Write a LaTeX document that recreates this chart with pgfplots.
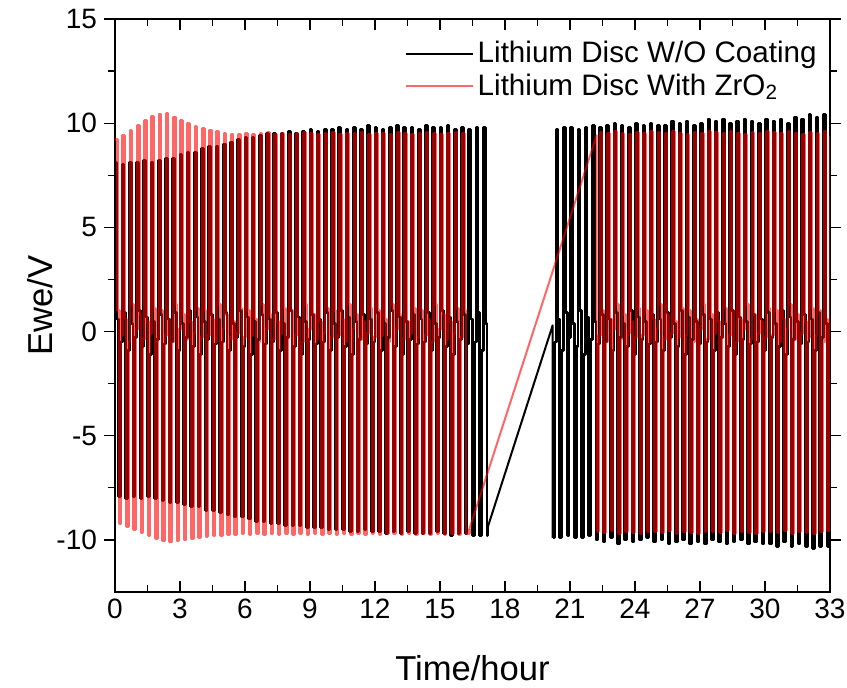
\documentclass[border=0pt]{standalone}
\usepackage{fontspec}
\setmainfont{Liberation Sans}
\usepackage{pgfplots}
\pgfplotsset{compat=1.18}
\begin{document}
\begin{tikzpicture}
\begin{axis}[
  width=357.5pt, height=286.5pt, scale only axis,
  xmin=0, xmax=33, ymin=-12.5, ymax=15,
  xtick={0,3,...,33}, ytick={-10,-5,0,5,10,15},
  minor x tick num=1, minor y tick num=1,
  xtick align=inside, ytick align=outside,
  major tick length=5.5pt, minor tick length=3.5pt,
  every tick/.style={line width=0.6pt, black},
  axis line style={line width=1pt},
  ticklabel style={font=\fontsize{14}{16}\selectfont},
  /pgf/number format/assume math mode=true,
  xlabel={Time/hour}, ylabel={Ewe/V},
  label style={font=\fontsize{17.3}{20}\selectfont},
  xlabel style={at={(axis description cs:0.5,-0.1326)}, anchor=center},
  ylabel style={at={(axis description cs:-0.1049,0.5)}, anchor=center},
  legend style={draw=none, fill=none, inner sep=0pt, nodes={inner sep=2pt},
    at={(axis description cs:0.9874,0.9686)}, anchor=north east,
    font=\fontsize{14.8}{17}\selectfont},
  legend cell align=left,
  legend image code/.code={\draw[#1, line width=1pt] (0pt,0pt) -- (33.5pt,0pt);},
  every axis plot/.append style={line width=1.4pt, line join=round},
]
% black, first part
\addplot[black, const plot, no marks] coordinates {
(0,8.1)(0.083,0.6)(0.167,-7.9)(0.25,-0.5)(0.333,8.0)(0.417,0.9)(0.5,-8.0)(0.583,-0.9)(0.667,8.1)(0.75,0.4)(0.833,-7.9)(0.917,-0.3)
(1,8.1)(1.083,1.0)(1.167,-8.0)(1.25,-0.7)(1.333,8.2)(1.417,0.7)(1.5,-7.9)(1.583,-1.1)(1.667,8.1)(1.75,0.5)(1.833,-8.0)(1.917,-0.4)
(2,8.2)(2.083,0.8)(2.167,-8.1)(2.25,-0.6)(2.333,8.3)(2.417,0.6)(2.5,-8.2)(2.583,-0.5)(2.667,8.3)(2.75,0.9)(2.833,-8.2)(2.917,-0.9)
(3,8.5)(3.083,0.4)(3.167,-8.3)(3.25,-0.3)(3.333,8.6)(3.417,1.0)(3.5,-8.4)(3.583,-0.7)(3.667,8.6)(3.75,0.7)(3.833,-8.4)(3.917,-1.1)
(4,8.8)(4.083,0.5)(4.167,-8.6)(4.25,-0.4)(4.333,8.9)(4.417,0.8)(4.5,-8.6)(4.583,-0.6)(4.667,8.9)(4.75,0.6)(4.833,-8.7)(4.917,-0.5)
(5,9.0)(5.083,0.9)(5.167,-8.8)(5.25,-0.9)(5.333,9.1)(5.417,0.4)(5.5,-8.9)(5.583,-0.3)(5.667,9.2)(5.75,1.0)(5.833,-8.9)(5.917,-0.7)
(6,9.3)(6.083,0.7)(6.167,-9.0)(6.25,-1.1)(6.333,9.3)(6.417,0.5)(6.5,-9.1)(6.583,-0.4)(6.667,9.4)(6.75,0.8)(6.833,-9.1)(6.917,-0.6)
(7,9.5)(7.083,0.6)(7.167,-9.2)(7.25,-0.5)(7.333,9.5)(7.417,0.9)(7.5,-9.2)(7.583,-0.9)(7.667,9.5)(7.75,0.4)(7.833,-9.3)(7.917,-0.3)
(8,9.6)(8.083,1.0)(8.167,-9.3)(8.25,-0.7)(8.333,9.5)(8.417,0.7)(8.5,-9.3)(8.583,-1.1)(8.667,9.6)(8.75,0.5)(8.833,-9.4)(8.917,-0.4)
(9,9.7)(9.083,0.8)(9.167,-9.4)(9.25,-0.6)(9.333,9.6)(9.417,0.6)(9.5,-9.4)(9.583,-0.5)(9.667,9.7)(9.75,0.9)(9.833,-9.5)(9.917,-0.9)
(10,9.7)(10.083,0.4)(10.167,-9.5)(10.25,-0.3)(10.333,9.8)(10.417,1.0)(10.5,-9.5)(10.583,-0.7)(10.667,9.7)(10.75,0.7)(10.833,-9.6)(10.917,-1.1)
(11,9.8)(11.083,0.5)(11.167,-9.6)(11.25,-0.4)(11.333,9.7)(11.417,0.8)(11.5,-9.5)(11.583,-0.6)(11.667,9.9)(11.75,0.6)(11.833,-9.6)(11.917,-0.5)
(12,9.8)(12.083,0.9)(12.167,-9.6)(12.25,-0.9)(12.333,9.7)(12.417,0.4)(12.5,-9.7)(12.583,-0.3)(12.667,9.8)(12.75,1.0)(12.833,-9.6)(12.917,-0.7)
(13,9.9)(13.083,0.7)(13.167,-9.7)(13.25,-1.1)(13.333,9.8)(13.417,0.5)(13.5,-9.6)(13.583,-0.4)(13.667,9.8)(13.75,0.8)(13.833,-9.7)(13.917,-0.6)
(14,9.7)(14.083,0.6)(14.167,-9.7)(14.25,-0.5)(14.333,9.9)(14.417,0.9)(14.5,-9.7)(14.583,-0.9)(14.667,9.8)(14.75,0.4)(14.833,-9.6)(14.917,-0.3)
(15,9.8)(15.083,1.0)(15.167,-9.7)(15.25,-0.7)(15.333,9.9)(15.417,0.7)(15.5,-9.8)(15.583,-1.1)(15.667,9.7)(15.75,0.5)(15.833,-9.7)(15.917,-0.4)
(16,9.8)(16.083,0.8)(16.167,-9.7)(16.25,-0.6)(16.333,9.7)(16.417,0.6)(16.5,-9.8)(16.583,-0.5)(16.667,9.8)(16.75,0.9)(16.833,-9.8)(16.917,-0.9)
(17,9.8)(17.083,0.4)(17.167,-9.8)(17.2,-9.4)
};
\addlegendentry{Lithium Disc W/O Coating}
\addplot[black, sharp plot, no marks, forget plot, line width=1pt] coordinates {(17.2,-9.4)(20.2,0.3)(20.2,-9.9)};
\addplot[black, const plot, no marks, forget plot] coordinates {
(20.2,-9.9)(20.283,-0.5)(20.367,9.7)(20.45,0.6)
(20.533,-9.9)(20.617,-0.9)(20.7,9.8)(20.783,0.9)
(20.867,-9.8)(20.95,-0.3)(21.033,9.8)(21.117,0.4)
(21.2,-9.9)(21.283,-0.7)(21.367,9.7)(21.45,1.0)
(21.533,-9.9)(21.617,-1.1)(21.7,9.8)(21.783,0.7)
(21.867,-9.8)(21.95,-0.4)(22.033,9.9)(22.117,0.5)
(22.2,-10.0)(22.283,-0.6)(22.367,9.8)(22.45,0.8)
(22.533,-10.1)(22.617,-0.5)(22.7,9.9)(22.783,0.6)
(22.867,-9.9)(22.95,-0.9)(23.033,10.0)(23.117,0.9)
(23.2,-10.2)(23.283,-0.3)(23.367,9.9)(23.45,0.4)
(23.533,-10.0)(23.617,-0.7)(23.7,9.8)(23.783,1.0)
(23.867,-10.1)(23.95,-1.1)(24.033,10.0)(24.117,0.7)
(24.2,-10.0)(24.283,-0.4)(24.367,9.9)(24.45,0.5)
(24.533,-9.9)(24.617,-0.6)(24.7,10.0)(24.783,0.8)
(24.867,-10.1)(24.95,-0.5)(25.033,9.9)(25.117,0.6)
(25.2,-10.0)(25.283,-0.9)(25.367,9.9)(25.45,0.9)
(25.533,-10.2)(25.617,-0.3)(25.7,10.1)(25.783,0.4)
(25.867,-10.1)(25.95,-0.7)(26.033,10.0)(26.117,1.0)
(26.2,-10.0)(26.283,-1.1)(26.367,10.1)(26.45,0.7)
(26.533,-10.2)(26.617,-0.4)(26.7,9.9)(26.783,0.5)
(26.867,-10.1)(26.95,-0.6)(27.033,10.0)(27.117,0.8)
(27.2,-10.2)(27.283,-0.5)(27.367,10.2)(27.45,0.6)
(27.533,-10.0)(27.617,-0.9)(27.7,10.1)(27.783,0.9)
(27.867,-10.1)(27.95,-0.3)(28.033,10.2)(28.117,0.4)
(28.2,-10.2)(28.283,-0.7)(28.367,10.0)(28.45,1.0)
(28.533,-10.1)(28.617,-1.1)(28.7,10.1)(28.783,0.7)
(28.867,-10.0)(28.95,-0.4)(29.033,10.2)(29.117,0.5)
(29.2,-10.2)(29.283,-0.6)(29.367,10.1)(29.45,0.8)
(29.533,-10.1)(29.617,-0.5)(29.7,10.0)(29.783,0.6)
(29.867,-10.2)(29.95,-0.9)(30.033,10.2)(30.117,0.9)
(30.2,-10.2)(30.283,-0.3)(30.367,10.1)(30.45,0.4)
(30.533,-10.3)(30.617,-0.7)(30.7,10.2)(30.783,1.0)
(30.867,-10.1)(30.95,-1.1)(31.033,10.0)(31.117,0.7)
(31.2,-10.3)(31.283,-0.4)(31.367,10.3)(31.45,0.5)
(31.533,-10.2)(31.617,-0.6)(31.7,10.2)(31.783,0.8)
(31.867,-10.3)(31.95,-0.5)(32.033,10.4)(32.117,0.6)
(32.2,-10.4)(32.283,-0.9)(32.367,10.3)(32.45,0.9)
(32.533,-10.3)(32.617,-0.3)(32.7,10.4)(32.783,0.4)
(32.867,-10.3)(32.95,-0.7)(33,-10.6)
};
% red, first part
\addplot[red, opacity=0.6, const plot, no marks] coordinates {
(0,9.2)(0.113,1.0)(0.197,-9.2)(0.28,-0.2)(0.363,9.4)(0.447,0.6)(0.53,-9.35)(0.613,-0.5)(0.697,9.63)(0.78,1.3)(0.863,-9.5)(0.947,0.1)
(1.03,9.88)(1.113,0.8)(1.197,-9.65)(1.28,-0.4)(1.363,10.12)(1.447,0.5)(1.53,-9.8)(1.613,-0.1)(1.697,10.33)(1.78,1.1)(1.863,-9.95)(1.947,-0.3)
(2.03,10.44)(2.113,1.0)(2.197,-10.05)(2.28,-0.2)(2.363,10.45)(2.447,0.6)(2.53,-10.1)(2.613,-0.5)(2.697,10.3)(2.78,1.3)(2.863,-10.05)(2.947,0.1)
(3.03,10.13)(3.113,0.8)(3.197,-10.0)(3.28,-0.4)(3.363,9.97)(3.447,0.5)(3.53,-9.95)(3.613,-0.1)(3.697,9.85)(3.78,1.1)(3.863,-9.9)(3.947,-0.3)
(4.03,9.75)(4.113,1.0)(4.197,-9.85)(4.28,-0.2)(4.363,9.67)(4.447,0.6)(4.53,-9.8)(4.613,-0.5)(4.697,9.61)(4.78,1.3)(4.863,-9.8)(4.947,0.1)
(5.03,9.52)(5.113,0.8)(5.197,-9.75)(5.28,-0.4)(5.363,9.48)(5.447,0.5)(5.53,-9.75)(5.613,-0.1)(5.697,9.45)(5.78,1.1)(5.863,-9.7)(5.947,-0.3)
(6.03,9.5)(6.113,1.0)(6.197,-9.75)(6.28,-0.2)(6.363,9.45)(6.447,0.6)(6.53,-9.7)(6.613,-0.5)(6.697,9.5)(6.78,1.3)(6.863,-9.75)(6.947,0.1)
(7.03,9.55)(7.113,0.8)(7.197,-9.7)(7.28,-0.4)(7.363,9.45)(7.447,0.5)(7.53,-9.75)(7.613,-0.1)(7.697,9.5)(7.78,1.1)(7.863,-9.7)(7.947,-0.3)
(8.03,9.45)(8.113,1.0)(8.197,-9.75)(8.28,-0.2)(8.363,9.5)(8.447,0.6)(8.53,-9.7)(8.613,-0.5)(8.697,9.55)(8.78,1.3)(8.863,-9.75)(8.947,0.1)
(9.03,9.5)(9.113,0.8)(9.197,-9.7)(9.28,-0.4)(9.363,9.45)(9.447,0.5)(9.53,-9.75)(9.613,-0.1)(9.697,9.5)(9.78,1.1)(9.863,-9.7)(9.947,-0.3)
(10.03,9.55)(10.113,1.0)(10.197,-9.75)(10.28,-0.2)(10.363,9.45)(10.447,0.6)(10.53,-9.7)(10.613,-0.5)(10.697,9.5)(10.78,1.3)(10.863,-9.75)(10.947,0.1)
(11.03,9.5)(11.113,0.8)(11.197,-9.7)(11.28,-0.4)(11.363,9.55)(11.447,0.5)(11.53,-9.75)(11.613,-0.1)(11.697,9.45)(11.78,1.1)(11.863,-9.7)(11.947,-0.3)
(12.03,9.5)(12.113,1.0)(12.197,-9.75)(12.28,-0.2)(12.363,9.5)(12.447,0.6)(12.53,-9.7)(12.613,-0.5)(12.697,9.45)(12.78,1.3)(12.863,-9.7)(12.947,0.1)
(13.03,9.55)(13.113,0.8)(13.197,-9.75)(13.28,-0.4)(13.363,9.5)(13.447,0.5)(13.53,-9.7)(13.613,-0.1)(13.697,9.45)(13.78,1.1)(13.863,-9.75)(13.947,-0.3)
(14.03,9.5)(14.113,1.0)(14.197,-9.7)(14.28,-0.2)(14.363,9.55)(14.447,0.6)(14.53,-9.75)(14.613,-0.5)(14.697,9.5)(14.78,1.3)(14.863,-9.7)(14.947,0.1)
(15.03,9.45)(15.113,0.8)(15.197,-9.75)(15.28,-0.4)(15.363,9.5)(15.447,0.5)(15.53,-9.7)(15.613,-0.1)(15.697,9.55)(15.78,1.1)(15.863,-9.75)(15.947,-0.3)
(16.03,9.5)(16.113,1.0)(16.197,-9.7)(16.35,-9.5)
};
\addlegendentry{Lithium Disc With ZrO\textsubscript{2}}
\addplot[red, opacity=0.6, sharp plot, no marks, forget plot, line width=1pt] coordinates {(16.35,-9.5)(22.23,9.42)(22.23,-9.6)};
\addplot[red, opacity=0.6, const plot, no marks, forget plot] coordinates {
(22.23,-9.6)(22.313,-0.2)(22.397,9.55)(22.48,1.0)
(22.563,-9.65)(22.647,-0.5)(22.73,9.5)(22.813,0.6)
(22.897,-9.55)(22.98,0.1)(23.063,9.6)(23.147,1.3)
(23.23,-9.7)(23.313,-0.4)(23.397,9.5)(23.48,0.8)
(23.563,-9.6)(23.647,-0.1)(23.73,9.45)(23.813,0.5)
(23.897,-9.65)(23.98,-0.3)(24.063,9.55)(24.147,1.1)
(24.23,-9.7)(24.313,-0.2)(24.397,9.5)(24.48,1.0)
(24.563,-9.6)(24.647,-0.5)(24.73,9.6)(24.813,0.6)
(24.897,-9.6)(24.98,0.1)(25.063,9.55)(25.147,1.3)
(25.23,-9.65)(25.313,-0.4)(25.397,9.5)(25.48,0.8)
(25.563,-9.55)(25.647,-0.1)(25.73,9.6)(25.813,0.5)
(25.897,-9.7)(25.98,-0.3)(26.063,9.5)(26.147,1.1)
(26.23,-9.6)(26.313,-0.2)(26.397,9.45)(26.48,1.0)
(26.563,-9.65)(26.647,-0.5)(26.73,9.55)(26.813,0.6)
(26.897,-9.7)(26.98,0.1)(27.063,9.5)(27.147,1.3)
(27.23,-9.6)(27.313,-0.4)(27.397,9.6)(27.48,0.8)
(27.563,-9.6)(27.647,-0.1)(27.73,9.55)(27.813,0.5)
(27.897,-9.65)(27.98,-0.3)(28.063,9.5)(28.147,1.1)
(28.23,-9.55)(28.313,-0.2)(28.397,9.6)(28.48,1.0)
(28.563,-9.7)(28.647,-0.5)(28.73,9.5)(28.813,0.6)
(28.897,-9.6)(28.98,0.1)(29.063,9.45)(29.147,1.3)
(29.23,-9.65)(29.313,-0.4)(29.397,9.55)(29.48,0.8)
(29.563,-9.7)(29.647,-0.1)(29.73,9.5)(29.813,0.5)
(29.897,-9.6)(29.98,-0.3)(30.063,9.6)(30.147,1.1)
(30.23,-9.6)(30.313,-0.2)(30.397,9.55)(30.48,1.0)
(30.563,-9.65)(30.647,-0.5)(30.73,9.5)(30.813,0.6)
(30.897,-9.55)(30.98,0.1)(31.063,9.6)(31.147,1.3)
(31.23,-9.7)(31.313,-0.4)(31.397,9.5)(31.48,0.8)
(31.563,-9.6)(31.647,-0.1)(31.73,9.45)(31.813,0.5)
(31.897,-9.65)(31.98,-0.3)(32.063,9.55)(32.147,1.1)
(32.23,-9.7)(32.313,-0.2)(32.397,9.5)(32.48,1.0)
(32.563,-9.6)(32.647,-0.5)(32.73,9.6)(32.813,0.6)
(32.897,-9.55)(32.98,0.1)(33,9.4)
};
\end{axis}
\pgfresetboundingbox
\path[use as bounding box] ([shift={(-57.5pt,-47.5pt)}]current axis.south west) rectangle ([shift={(8.5pt,9.5pt)}]current axis.north east);
\end{tikzpicture}
\end{document}
